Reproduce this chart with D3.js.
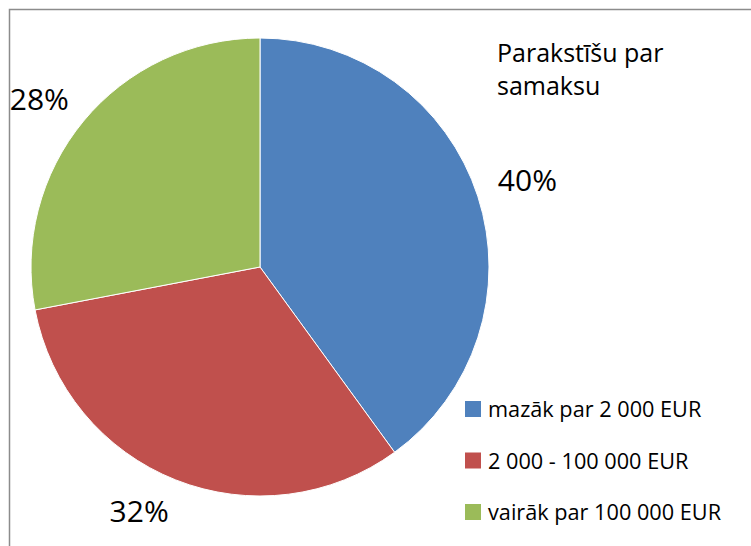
<!DOCTYPE html>
<html>
<head>
<meta charset="utf-8">
<script src="https://cdn.jsdelivr.net/npm/d3@7"></script>
<style>
  body { margin: 0; background: #fff; }
  text { font-family: "Open Sans", "DejaVu Sans", sans-serif; fill: #000; }
</style>
</head>
<body>
<div id="chart"></div>
<script>
// data
let categories = ["mazāk par 2 000 EUR", "2 000 - 100 000 EUR", "vairāk par 100 000 EUR"];
let shares = [40, 32, 28];
let colors = ["#4F81BD", "#C0504D", "#9BBB59"];
let titleLines = ["Parakstīšu par", "samaksu"];

let width = 751, height = 546;
let cx = 260, cy = 267, radius = 229;

let svg = d3.select("#chart").append("svg")
    .attr("width", width)
    .attr("height", height);

// chart frame (right/bottom edges run off the picture)
svg.append("rect")
    .attr("x", 9.5).attr("y", 9.5)
    .attr("width", width + 20).attr("height", height + 20)
    .attr("fill", "none")
    .attr("stroke", "#8c8c8c")
    .attr("stroke-width", 1.5);

let pie = d3.pie().sort(null).value(d => d);
let arcs = pie(shares);
let arc = d3.arc().innerRadius(0).outerRadius(radius);

let g = svg.append("g").attr("transform", `translate(${cx},${cy})`);

g.selectAll("path")
    .data(arcs)
    .join("path")
    .attr("d", arc)
    .attr("fill", (d, i) => colors[i])
    .attr("stroke", "#fff")
    .attr("stroke-width", 1);

// outside-end labels: corner nearest the pie sits on a ring just outside it
let fs = 30, labelR = radius + 19;
g.selectAll("text.pct")
    .data(arcs)
    .join("text")
    .attr("class", "pct")
    .style("font-size", fs + "px")
    .each(function(d) {
        let a = (d.startAngle + d.endAngle) / 2;
        let sx = Math.sin(a), cy_ = -Math.cos(a);
        let px = labelR * sx, py = labelR * cy_;
        d3.select(this)
            .attr("text-anchor", sx >= 0 ? "start" : "end")
            .attr("x", px + (sx >= 0 ? 2 : 0))
            .attr("y", cy_ < 0 ? py + 1 : py + fs * 0.8);
    })
    .text(d => d.data + "%");

// title
svg.append("g").selectAll("text")
    .data(titleLines)
    .join("text")
    .attr("x", 497)
    .attr("y", (d, i) => 62 + i * 33)
    .style("font-size", "25px")
    .text(d => d);

// legend
let legend = svg.append("g").attr("transform", "translate(465,401)");
let rows = legend.selectAll("g")
    .data(categories)
    .join("g")
    .attr("transform", (d, i) => `translate(0,${i * 51.5})`);
rows.append("rect")
    .attr("width", 16).attr("height", 16)
    .attr("fill", (d, i) => colors[i]);
rows.append("text")
    .attr("x", 23).attr("y", 16)
    .style("font-size", "21.7px")
    .text(d => d);
</script>
</body>
</html>
